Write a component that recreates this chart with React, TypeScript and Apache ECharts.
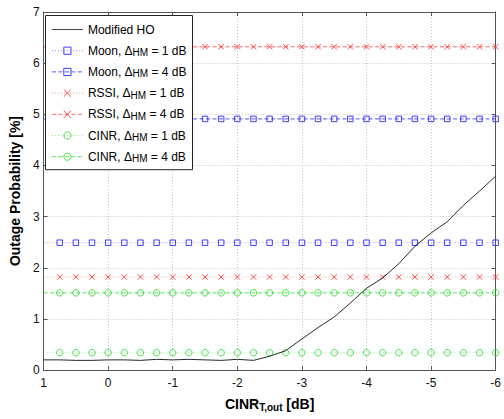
import React, { useEffect, useRef } from "react";
import * as echarts from "echarts";

const FONT = "'Liberation Sans', Arial, Helvetica, sans-serif";

// x values (CINR_T,out in dB), axis reversed
const xs = [1, 0.75, 0.5, 0.25, 0, -0.25, -0.5, -0.75, -1, -1.25, -1.5, -1.75, -2, -2.25, -2.5, -2.75, -3, -3.25, -3.5, -3.75, -4, -4.25, -4.5, -4.75, -5, -5.25, -5.5, -5.75, -6];

const modifiedHO = [0.2, 0.2, 0.19, 0.19, 0.2, 0.2, 0.19, 0.21, 0.2, 0.21, 0.2, 0.19, 0.21, 0.19, 0.27, 0.38, 0.61, 0.83, 1.04, 1.31, 1.6, 1.8, 2.08, 2.42, 2.68, 2.9, 3.22, 3.5, 3.79];
const moon1 = [2.49, 2.49, 2.49, 2.49, 2.49, 2.49, 2.49, 2.49, 2.49, 2.49, 2.49, 2.49, 2.49, 2.49, 2.49, 2.49, 2.49, 2.49, 2.49, 2.49, 2.49, 2.49, 2.49, 2.49, 2.49, 2.49, 2.49, 2.49, 2.49];
const moon4 = [4.91, 4.91, 4.91, 4.91, 4.91, 4.91, 4.91, 4.91, 4.91, 4.91, 4.91, 4.91, 4.91, 4.91, 4.91, 4.91, 4.91, 4.91, 4.91, 4.91, 4.91, 4.91, 4.91, 4.91, 4.91, 4.91, 4.91, 4.91, 4.91];
const rssi1 = [1.82, 1.82, 1.82, 1.82, 1.82, 1.82, 1.82, 1.82, 1.82, 1.82, 1.82, 1.82, 1.82, 1.82, 1.82, 1.82, 1.82, 1.82, 1.82, 1.82, 1.82, 1.82, 1.82, 1.82, 1.82, 1.82, 1.82, 1.82, 1.82];
const rssi4 = [6.32, 6.32, 6.32, 6.32, 6.32, 6.32, 6.32, 6.32, 6.32, 6.32, 6.32, 6.32, 6.32, 6.32, 6.32, 6.32, 6.32, 6.32, 6.32, 6.32, 6.32, 6.32, 6.32, 6.32, 6.32, 6.32, 6.32, 6.32, 6.32];
const cinr1 = [0.34, 0.34, 0.34, 0.34, 0.34, 0.34, 0.34, 0.34, 0.34, 0.34, 0.34, 0.34, 0.34, 0.34, 0.34, 0.34, 0.34, 0.34, 0.34, 0.34, 0.34, 0.34, 0.34, 0.34, 0.34, 0.34, 0.34, 0.34, 0.34];
const cinr4 = [1.51, 1.51, 1.51, 1.51, 1.51, 1.51, 1.51, 1.51, 1.51, 1.51, 1.51, 1.51, 1.51, 1.51, 1.51, 1.51, 1.51, 1.51, 1.51, 1.51, 1.51, 1.51, 1.51, 1.51, 1.51, 1.51, 1.51, 1.51, 1.51];

const seriesNames = [
  "Modified HO",
  "Moon, ΔHM = 1 dB",
  "Moon, ΔHM = 4 dB",
  "RSSI, ΔHM = 1 dB",
  "RSSI, ΔHM = 4 dB",
  "CINR, ΔHM = 1 dB",
  "CINR, ΔHM = 4 dB",
];
const legendLabels: Record<string, string> = {
  "Modified HO": "{m|Modified HO}",
  "Moon, ΔHM = 1 dB": "{m|Moon, Δ}{s|HM}{m| = 1 dB}",
  "Moon, ΔHM = 4 dB": "{m|Moon, Δ}{s|HM}{m| = 4 dB}",
  "RSSI, ΔHM = 1 dB": "{m|RSSI, Δ}{s|HM}{m| = 1 dB}",
  "RSSI, ΔHM = 4 dB": "{m|RSSI, Δ}{s|HM}{m| = 4 dB}",
  "CINR, ΔHM = 1 dB": "{m|CINR, Δ}{s|HM}{m| = 1 dB}",
  "CINR, ΔHM = 4 dB": "{m|CINR, Δ}{s|HM}{m| = 4 dB}",
};

const BLUE = "#2b2bff";
const RED = "#ff3a3a";
const GREEN = "#2fe02f";
const CROSS = "path://M0,0L10,10M10,0L0,10";

function zipMarked(ys: number[]) {
  return xs.map((x, i) => (i === 0 ? { value: [x, ys[i]], symbol: "none" } : [x, ys[i]]));
}

function markerSeries(name: string, ys: number[], color: string, symbol: string, size: number, dotted: boolean) {
  return {
    name,
    type: "line",
    data: zipMarked(ys),
    symbol,
    symbolSize: size,
    showAllSymbol: true,
    lineStyle: {
      color,
      width: dotted ? 0.6 : 0.8,
      type: dotted ? [1, 2] : [4, 2.5],
      opacity: dotted ? 0.7 : 1,
    },
    itemStyle: { color: "rgba(0,0,0,0)", borderColor: color, borderWidth: 0.9 },
    emphasis: { disabled: true },
    z: 3,
  };
}

export default function App() {
  const ref = useRef<HTMLDivElement>(null);
  useEffect(() => {
    if (!ref.current) return;
    const chart = echarts.init(ref.current, null, { renderer: "svg" });
    const axisLineStyle = { color: "#555", width: 1 };
    chart.setOption({
      animation: false,
      backgroundColor: "#fff",
      grid: { left: 41, top: 12, width: 463.6, height: 366, containLabel: false },
      xAxis: [
        {
          type: "value",
          inverse: true,
          min: -6,
          max: 1,
          interval: 1,
          position: "bottom",
          axisLine: { show: true, onZero: false, lineStyle: axisLineStyle },
          axisTick: { show: true, inside: true, length: 4, lineStyle: axisLineStyle },
          axisLabel: { margin: 7, fontSize: 12, color: "#111", fontFamily: FONT, showMaxLabel: true, showMinLabel: true },
          splitLine: { show: true, lineStyle: { color: "#c4c4c4", width: 1, type: [1, 2] } },
          name: "{a|CINR}{b|T,out}{a| [dB]}",
          nameLocation: "middle",
          nameGap: 15,
          nameTextStyle: {
            fontFamily: FONT,
            rich: {
              a: { fontSize: 14, fontWeight: "bold", color: "#000", fontFamily: FONT, lineHeight: 16, padding: [3, 0, 3, 0] },
              b: { fontSize: 10, fontWeight: "bold", color: "#000", fontFamily: FONT, lineHeight: 11, verticalAlign: "bottom" },
            },
          },
        },
        {
          type: "value",
          inverse: true,
          min: -6,
          max: 1,
          interval: 1,
          position: "top",
          axisLine: { show: true, onZero: false, lineStyle: axisLineStyle },
          axisTick: { show: true, inside: true, length: 4, lineStyle: axisLineStyle },
          axisLabel: { show: false },
          splitLine: { show: false },
        },
      ],
      yAxis: [
        {
          type: "value",
          min: 0,
          max: 7,
          interval: 1,
          position: "left",
          axisLine: { show: true, onZero: false, lineStyle: axisLineStyle },
          axisTick: { show: true, inside: true, length: 4, lineStyle: axisLineStyle },
          axisLabel: { margin: 4, fontSize: 12, color: "#111", fontFamily: FONT },
          splitLine: { show: true, lineStyle: { color: "#c4c4c4", width: 1, type: [1, 2] } },
          name: "Outage Probability [%]",
          nameLocation: "middle",
          nameGap: 7,
          nameTextStyle: { fontSize: 14, fontWeight: "bold", color: "#000", fontFamily: FONT },
        },
        {
          type: "value",
          min: 0,
          max: 7,
          interval: 1,
          position: "right",
          axisLine: { show: true, onZero: false, lineStyle: axisLineStyle },
          axisTick: { show: true, inside: true, length: 4, lineStyle: axisLineStyle },
          axisLabel: { show: false },
          splitLine: { show: false },
        },
      ],
      legend: {
        orient: "vertical",
        left: 45.5,
        top: 15.5,
        padding: [5, 6, 4, 6],
        itemWidth: 31,
        itemHeight: 9,
        itemGap: 3.2,
        backgroundColor: "#fff",
        borderColor: "#222",
        borderWidth: 1,
        borderRadius: 0,
        selectedMode: false,
        formatter: (name: string) => legendLabels[name] || name,
        itemStyle: { borderWidth: 0.9 },
        lineStyle: { width: 0.8 },
        textStyle: {
          fontFamily: FONT,
          fontSize: 12,
          color: "#000",
          rich: {
            m: { fontSize: 12, fontFamily: FONT, color: "#000", lineHeight: 14, padding: [3, 0, 3, 0] },
            s: { fontSize: 10, fontFamily: FONT, color: "#000", lineHeight: 10, verticalAlign: "bottom" },
          },
        },
        data: [
          { name: seriesNames[0], itemStyle: { opacity: 0 } },
          seriesNames[1],
          seriesNames[2],
          seriesNames[3],
          seriesNames[4],
          seriesNames[5],
          seriesNames[6],
        ],
      },
      series: [
        {
          name: seriesNames[0],
          type: "line",
          data: xs.map((x, i) => [x, modifiedHO[i]]),
          symbol: "none",
          lineStyle: { color: "#111", width: 0.9 },
          itemStyle: { color: "#111" },
          emphasis: { disabled: true },
          z: 4,
        },
        markerSeries(seriesNames[1], moon1, BLUE, "rect", 5.5, true),
        markerSeries(seriesNames[2], moon4, BLUE, "rect", 5.5, false),
        markerSeries(seriesNames[3], rssi1, RED, CROSS, 5.5, true),
        markerSeries(seriesNames[4], rssi4, RED, CROSS, 5.5, false),
        markerSeries(seriesNames[5], cinr1, GREEN, "circle", 6.5, true),
        markerSeries(seriesNames[6], cinr4, GREEN, "circle", 6.5, false),
      ],
    });
    return () => chart.dispose();
  }, []);
  return <div ref={ref} style={{ position: "fixed", left: 0, top: 0, width: 504, height: 419 }} />;
}
